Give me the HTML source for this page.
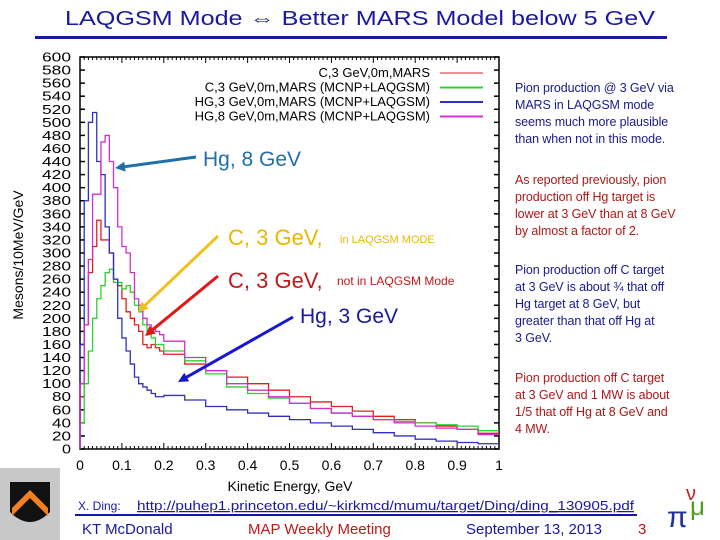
<!DOCTYPE html>
<html><head><meta charset="utf-8"><style>
body{margin:0;background:#fff;}
#root{position:relative;width:720px;height:540px;overflow:hidden;font-family:"Liberation Sans",sans-serif;}
.note{position:absolute;left:515px;width:205px;white-space:nowrap;font-family:"Liberation Sans",sans-serif;font-size:12.5px;line-height:17px;letter-spacing:-0.1px;}
</style></head><body>
<div id="root">
<svg id="chart" width="720" height="540" style="position:absolute;left:0;top:0"></svg>
<div class="note" style="top:80px;color:#1a1a8c">Pion production @ 3 GeV via<br>MARS in LAQGSM mode<br>seems much more plausible<br>than when not in this mode.</div>
<div class="note" style="top:172px;color:#b01818">As reported previously, pion<br>production off Hg target is<br>lower at 3 GeV than at 8 GeV<br>by almost a factor of 2.</div>
<div class="note" style="top:262px;color:#1a1a8c">Pion production off C target<br>at 3 GeV is about ¾ that off<br>Hg target at 8 GeV, but<br>greater than that off Hg at<br>3 GeV.</div>
<div class="note" style="top:370px;color:#b01818">Pion production off C target<br>at 3 GeV and 1 MW is about<br>1/5 that off Hg at 8 GeV and<br>4 MW.</div>
</div>
<script>
const binEdges=[0,0.01,0.02,0.03,0.04,0.05,0.06,0.07,0.08,0.09,0.1,0.11,0.12,0.13,0.14,0.15,0.16,0.17,0.18,0.19,0.2,0.25,0.3,0.35,0.4,0.45,0.5,0.55,0.6,0.65,0.7,0.75,0.8,0.85,0.9,0.95,1.0];
const redVals=[80,190,270,310,350,320,320,300,260,250,230,210,200,190,180,160,155,160,155,150,145,130,120,110,100,90,80,72,65,58,50,45,40,35,30,24];
const greenVals=[40,100,150,200,230,250,270,275,255,255,245,250,240,220,210,190,180,170,160,160,150,135,115,95,85,78,70,62,55,50,45,42,40,37,35,28];
const blueVals=[160,380,500,515,440,420,340,300,260,200,170,150,130,110,100,95,90,85,80,80,82,75,65,60,55,50,45,40,35,30,25,20,15,12,10,8];
const magVals=[100,190,290,390,390,470,480,440,400,340,310,300,270,230,220,200,190,185,180,175,165,140,120,100,90,80,70,62,55,50,45,40,35,32,30,22];
const xTicks=[0,0.1,0.2,0.3,0.4,0.5,0.6,0.7,0.8,0.9,1];
const yTicks=[];for(let v=0;v<=600;v+=20)yTicks.push(v);
const legendLabels=["C,3 GeV,0m,MARS","C,3 GeV,0m,MARS (MCNP+LAQGSM)","HG,3 GeV,0m,MARS (MCNP+LAQGSM)","HG,8 GeV,0m,MARS (MCNP+LAQGSM)"];
const NS="http://www.w3.org/2000/svg";
const svg=document.getElementById('chart');
const X0=80,X1=499,Y0=449,Y1=57;
const xs=v=>X0+(X1-X0)*v;
const ys=v=>Y0-(Y0-Y1)*v/600;
function el(t,a,txt){const e=document.createElementNS(NS,t);for(const k in a)e.setAttribute(k,a[k]);if(txt!==undefined)e.textContent=txt;svg.appendChild(e);return e;}
let t=el('text',{x:360,y:25,'text-anchor':'middle','font-size':20,fill:'#1a1aa0',textLength:590,lengthAdjust:'spacingAndGlyphs'},'LAQGSM Mode ⇔ Better MARS Model below 5 GeV');


let r=el('rect',{x:35,y:36,width:632,height:3,fill:'#1a1aa0'});


r=el('rect',{x:X0,y:Y1,width:X1-X0,height:Y0-Y1,fill:'none',stroke:'#000','stroke-width':1.5});


for(let i=0;i<=100;i++){const x=xs(i/100),L=i%10==0?6:3;el('line',{x1:x,x2:x,y1:Y0,y2:Y0-L,stroke:'#000'});el('line',{x1:x,x2:x,y1:Y1,y2:Y1+L,stroke:'#000'});}
xTicks.forEach(v=>{const e=el('text',{x:xs(v),y:470,'text-anchor':'middle','font-size':14},String(v));

});
yTicks.forEach(v=>{const y=ys(v);el('line',{x1:X0,x2:X0+5,y1:y,y2:y,stroke:'#000','stroke-width':1.5});el('line',{x1:X1,x2:X1-5,y1:y,y2:y,stroke:'#000','stroke-width':1.5});
const e=el('text',{x:71,y:y+4.5,'text-anchor':'end','font-size':13,textLength:v>=100?29:(v>=10?19:9),lengthAdjust:'spacingAndGlyphs'},String(v));

});
t=el('text',{x:0,y:0,'text-anchor':'middle','font-size':14,transform:'translate(23,255) rotate(-90)'},'Mesons/10MeV/GeV');


t=el('text',{x:290,y:491,'text-anchor':'middle','font-size':14},'Kinetic Energy, GeV');


function hist(vals,col,name){let d='M'+xs(0)+','+ys(0);for(let i=0;i<vals.length;i++){d+=' L'+xs(binEdges[i])+','+ys(vals[i])+' L'+xs(binEdges[i+1])+','+ys(vals[i]);}
const p=el('path',{d:d,fill:'none',stroke:col,'stroke-width':1.3});

}
hist(redVals,'#e02020','series-c-3gev-mars');
hist(greenVals,'#30d030','series-c-3gev-laqgsm');
hist(blueVals,'#3030c0','series-hg-3gev-laqgsm');
hist(magVals,'#d030d0','series-hg-8gev-laqgsm');
const lcols=['#e02020','#30d030','#3030c0','#d030d0'];
legendLabels.forEach((s,i)=>{const y=73+i*14.5;const g=el('text',{x:430,y:y+4,'text-anchor':'end','font-size':13},s);


el('line',{x1:440,x2:483,y1:y,y2:y,stroke:lcols[i],'stroke-width':i==0?1:2});});
function arrow(x1,y1,x2,y2,c,name){const a=Math.atan2(y2-y1,x2-x1),h=10;
const l=el('line',{x1:x1,y1:y1,x2:x2-h*0.7*Math.cos(a),y2:y2-h*0.7*Math.sin(a),stroke:c,'stroke-width':3});


el('polygon',{points:[x2,y2,x2-h*Math.cos(a)+5*Math.sin(a),y2-h*Math.sin(a)-5*Math.cos(a),x2-h*Math.cos(a)-5*Math.sin(a),y2-h*Math.sin(a)+5*Math.cos(a)].join(','),fill:c});}
function label(x,y,s,c,fs,name){const e=el('text',{x:x,y:y,'font-size':fs,fill:c},s);

}
label(203,166,'Hg, 8 GeV','#1f6fa8',21,'label-hg-8gev');arrow(196,157,115,168,'#1f6fa8','arrow-hg-8gev');
label(228,245,'C, 3 GeV,','#e8b800',22,'label-c-laqgsm');label(340,243,'in LAQGSM MODE','#e8b800',11,'label-c-laqgsm-note');arrow(218,236,138,312,'#f0c020','arrow-c-laqgsm');
label(228,288,'C, 3 GeV,','#c01818',22,'label-c-mars');label(337,285,'not in LAQGSM Mode','#c01818',12,'label-c-mars-note');arrow(218,276,145,336,'#e01818','arrow-c-mars');
label(300,323,'Hg, 3 GeV','#1818a0',21,'label-hg-3gev');arrow(293,317,178,382,'#1818d0','arrow-hg-3gev');
label(78,510,'X. Ding:','#1818a0',12,'footer-author');
const u=el('text',{x:137,y:510,'font-size':12.5,fill:'#1818a0','text-decoration':'underline',textLength:497,lengthAdjust:'spacingAndGlyphs'},'http://puhep1.princeton.edu/~kirkmcd/mumu/target/Ding/ding_130905.pdf');


r=el('rect',{x:75,y:514,width:562,height:2,fill:'#1818a0'});


label(82,534,'KT McDonald','#1818a0',15,'footer-presenter');
label(248,534,'MAP Weekly Meeting','#c01818',15,'footer-meeting');
label(466,534,'September 13, 2013','#1818a0',15,'footer-date');
label(638,534,'3','#c01818',15,'page-number');
r=el('rect',{x:0,y:468,width:60,height:72,fill:'#c8c8c8'});


el('path',{d:'M10,482 L50,482 L50,512 Q30,532 10,512 Z',fill:'#111'});
el('path',{d:'M12,508 L30,490 L48,508 L48,516 L30,498 L12,516 Z',fill:'#f08020'});
r=el('rect',{x:662,y:475,width:55,height:62,fill:'#fff'});


label(667,527,'π','#2030a0',30,'map-logo-pi');
label(690,515,'μ','#50a020',26,'map-logo-mu');
label(686,500,'ν','#c02020',20,'map-logo-nu');
</script>
</body></html>
